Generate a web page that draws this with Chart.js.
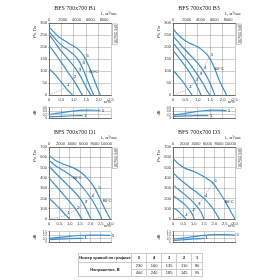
<!DOCTYPE html>
<html>
<head>
<meta charset="utf-8">
<script src="https://cdn.jsdelivr.net/npm/chart.js@4"></script>
<style>
body { margin: 0; width: 280px; height: 280px; background: #fff; position: relative; overflow: hidden; font-family: 'Liberation Sans', sans-serif; }
canvas { position: absolute; }
table { position: absolute; left: 78px; top: 253px; width: 125px; border-collapse: collapse; font-size: 4px; color: #222; }
td { border: 1px solid #ccc; text-align: center; padding: 0; line-height: 1; }
tr.h td { height: 8px; font-weight: bold; }
tr.r td { height: 6px; }
</style>
</head>
<body>
<script>
// curve data, x in m3/s, y in Pa
var b1C1 = [[0,110],[0.2,90],[0.4,65],[0.6,40],[0.8,15],[0.95,0]];
var b1C2 = [[0,207],[0.2,180],[0.4,150],[0.6,120],[0.8,90],[1.0,60],[1.15,35],[1.34,0]];
var b1C3 = [[0,251],[0.2,225],[0.4,195],[0.6,170],[0.8,145],[1.0,120],[1.2,90],[1.35,62],[1.5,32],[1.69,0]];
var b1C4 = [[0,265],[0.2,240],[0.4,217],[0.6,200],[0.8,185],[1.0,168],[1.2,143],[1.35,112],[1.5,75],[1.65,35],[1.8,0]];
var b1C5 = [[0,283],[0.2,262],[0.4,242],[0.6,228],[0.8,215],[1.0,203],[1.2,188],[1.4,163],[1.55,132],[1.7,97],[1.85,55],[2.07,0]];
var b1Sys = [[0,0],[0.67,33],[0.95,67],[1.15,97],[1.3,124],[1.45,155]];
var b1S5 = [[0,0.22],[0.4,0.29],[0.8,0.38],[1.2,0.45],[1.6,0.47],[2.07,0.45]];
var b1S1 = [[0,0.08],[0.5,0.11],[1.0,0.14],[1.36,0.15]];
var b1Notes = [[1.62,97,'60°C']];

var b3C1 = [[0,103],[0.2,80],[0.4,55],[0.6,25],[0.77,0]];
var b3C2 = [[0,186],[0.2,160],[0.4,133],[0.6,105],[0.8,72],[1.0,30],[1.13,0]];
var b3C3 = [[0,217],[0.2,192],[0.4,165],[0.6,140],[0.8,112],[1.0,82],[1.2,50],[1.35,22],[1.49,0]];
var b3C4 = [[0,246],[0.2,222],[0.4,198],[0.6,176],[0.8,155],[1.0,132],[1.2,105],[1.4,70],[1.55,35],[1.69,0]];
var b3C5 = [[0,276],[0.2,252],[0.4,233],[0.6,220],[0.8,210],[1.0,200],[1.2,185],[1.4,165],[1.55,140],[1.7,105],[1.85,65],[2.0,32],[2.16,0]];
var b3Sys = [[0,0],[0.6,26],[0.87,55],[1.03,78],[1.2,105],[1.47,158]];
var b3S5 = [[0,0.18],[0.4,0.25],[0.8,0.35],[1.2,0.43],[1.6,0.47],[2.16,0.44]];
var b3S1 = [[0,0.1],[0.5,0.13],[1.0,0.15],[1.43,0.15]];
var b3Notes = [[1.68,110,'60°C']];

var d1C1 = [[0,200],[0.2,165],[0.4,125],[0.6,85],[0.8,40],[1.0,0]];
var d1C2 = [[0,400],[0.3,330],[0.6,260],[0.9,190],[1.2,120],[1.4,60],[1.59,0]];
var d1C3 = [[0,513],[0.3,450],[0.6,390],[0.9,330],[1.2,270],[1.5,200],[1.7,135],[1.85,75],[2.03,0]];
var d1C4 = [[0,571],[0.3,520],[0.6,482],[0.9,445],[1.2,400],[1.5,340],[1.8,265],[2.1,180],[2.3,110],[2.45,50],[2.56,0]];
var d1C5 = [[0,619],[0.3,572],[0.6,542],[1.0,512],[1.3,485],[1.6,445],[1.9,385],[2.2,305],[2.4,225],[2.6,140],[2.8,60],[2.97,0]];
var d1Sys = [[0,0],[0.82,36],[1.3,89],[1.67,145],[2.0,209],[2.32,280]];
var d1S5 = [[0,0.55],[0.5,0.7],[1.0,0.85],[1.5,0.97],[2.0,1.02],[2.5,1.02],[2.97,0.98]];
var d1S1 = [[0,0.35],[0.5,0.45],[1.0,0.52],[1.64,0.55]];
var d1Notes = [[1.15,395,'60°C'],[2.6,180,'80°C']];

var d3C1 = [[0,110],[0.2,85],[0.4,48],[0.63,0]];
var d3C2 = [[0,227],[0.2,200],[0.4,170],[0.6,135],[0.8,90],[0.95,40],[1.03,0]];
var d3C3 = [[0,330],[0.3,282],[0.6,232],[0.9,178],[1.1,135],[1.3,85],[1.4,48],[1.5,0]];
var d3C4 = [[0,450],[0.3,392],[0.6,342],[0.9,295],[1.2,250],[1.5,200],[1.8,135],[2.0,80],[2.24,0]];
var d3C5 = [[0,589],[0.3,530],[0.6,492],[1.0,462],[1.4,422],[1.7,385],[1.93,350],[2.2,275],[2.4,212],[2.6,145],[2.8,70],[3.0,0]];
var d3Sys = [[0,0],[0.52,25],[0.87,71],[1.15,123],[1.47,204],[1.93,350]];
var d3S5 = [[0,0.45],[0.5,0.6],[1.0,0.8],[1.5,0.98],[2.0,1.08],[2.5,1.1],[3.0,1.02]];
var d3S1 = [[0,0.25],[0.5,0.35],[1.0,0.48],[1.5,0.55]];
var d3Notes = [[2.5,170,'80°C']];

// top axis ticks, m3/h
var flowTicksB = [0, 2000, 4000, 6000, 8000];
var flowTicksD = [0, 2000, 4000, 6000, 8000, 10000];

// table
var curveNums = ['5', '4', '3', '2', '1'];
var volts1 = ['230', '160', '135', '110', '80'];
var volts2 = ['400', '240', '185', '145', '95'];

var blue = '#3b8ed0';
var gridCol = 'rgba(0,0,0,0.28)';
var tickFont = { family: 'Liberation Sans', size: 4 };

function fmt(v) {
    return v === 0 ? '0' : v.toFixed(1).replace('.', ',');
}

function pts(arr) {
    return arr.map(function (p) { return { x: p[0], y: p[1] }; });
}

function endTag(arr, t) {
    return arr.map(function (p, i) { return i === arr.length - 1 ? t : ''; });
}

// draws small number tags at points and notes like 60°C
var tagPlugin = {
    id: 'tags',
    afterDatasetsDraw: function (chart, args, opts) {
        var ctx = chart.ctx;
        ctx.save();
        ctx.font = '4px "Liberation Sans"';
        ctx.fillStyle = '#222';
        ctx.textBaseline = 'middle';
        chart.data.datasets.forEach(function (ds, i) {
            if (!ds.tags) return;
            var meta = chart.getDatasetMeta(i);
            ds.tags.forEach(function (t, j) {
                if (!t) return;
                var p = meta.data[j];
                ctx.fillText(t, p.x + 1.5, p.y - (ds.tagUp ? 2 : 0));
            });
        });
        (opts.notes || []).forEach(function (n) {
            ctx.fillText(n[2], chart.scales.x.getPixelForValue(n[0]), chart.scales.y.getPixelForValue(n[1]));
        });
        ctx.restore();
    }
};

// plain canvas text (titles, axis names)
function textPlugin(items) {
    return {
        id: 'texts',
        afterDraw: function (chart) {
            var ctx = chart.ctx;
            items.forEach(function (it) {
                ctx.save();
                ctx.font = it.font || '4px "Liberation Sans"';
                ctx.fillStyle = it.color || '#333';
                ctx.textAlign = it.align || 'left';
                ctx.textBaseline = 'middle';
                ctx.translate(it.x, it.y);
                if (it.rot) ctx.rotate(it.rot);
                ctx.fillText(it.text, 0, 0);
                if (it.box) {
                    var w = ctx.measureText(it.text).width;
                    ctx.strokeStyle = '#888';
                    ctx.lineWidth = 0.5;
                    ctx.strokeRect(-1, -2.5, w + 2, 5);
                }
                ctx.restore();
            });
        }
    };
}

function addCanvas(x, y, w, h) {
    var c = document.createElement('canvas');
    c.width = w; c.height = h;
    c.style.left = x + 'px'; c.style.top = y + 'px';
    c.style.width = w + 'px'; c.style.height = h + 'px';
    document.body.appendChild(c);
    return c.getContext('2d');
}

function curveSet(data) {
    return { data: pts(data), borderColor: blue, borderWidth: 1.2, tension: 0.3, pointRadius: 0, fill: false };
}

function makePanel(ox, oy, title, xMax, yMax, yStep, flowTicks, subMax, subStep, curves, sys, s5, s1, notes) {
    var sets = curves.map(curveSet);
    sets.push({ data: pts(sys), borderColor: '#aaa', borderWidth: 0.8, borderDash: [1.5, 1], tension: 0.4, pointRadius: 0, fill: false, tags: ['', '1', '2', '3', '4', '5'], tagUp: true });

    var texts = [
        { text: title, x: 45, y: 8, align: 'center', font: '6px "Liberation Serif"', color: '#222' },
        { text: 'L, м³/час', x: 71, y: 14 },
        { text: 'Pv, Па', x: 5, y: 32, rot: -Math.PI / 2, align: 'center' },
        { text: 'м³/с', x: 74, y: 102 },
        { text: 'BFS 700x700', x: 85, y: 25, rot: Math.PI / 2, font: '3px "Liberation Sans"', box: true }
    ];

    new Chart(addCanvas(ox + 30, oy, 92, 106), {
        type: 'line',
        data: { datasets: sets },
        plugins: [tagPlugin, textPlugin(texts)],
        options: {
            animation: false,
            responsive: false,
            layout: { padding: { right: 11, left: 0, top: 0, bottom: 0 } },
            plugins: { legend: { display: false }, tooltip: { enabled: false }, tags: { notes: notes } },
            scales: {
                x: {
                    type: 'linear', position: 'bottom', min: 0, max: xMax,
                    ticks: { stepSize: 0.5, autoSkip: false, font: tickFont, color: '#333', padding: 1, maxRotation: 0, callback: fmt },
                    grid: { color: gridCol, lineWidth: 0.7, tickLength: 1 },
                    border: { color: '#555', width: 0.8 },
                    afterFit: function (s) { s.height = 11; }
                },
                xTop: {
                    type: 'linear', position: 'top', min: 0, max: xMax * 3600,
                    ticks: { autoSkip: false, font: tickFont, color: '#333', padding: 1, maxRotation: 0,
                        callback: function (v) { return String(v); } },
                    grid: { display: false, drawTicks: false, tickLength: 0 },
                    border: { color: '#555', width: 0.8 },
                    afterBuildTicks: function (s) { s.ticks = flowTicks.map(function (v) { return { value: v }; }); },
                    afterFit: function (s) { s.height = 23; }
                },
                y: {
                    type: 'linear', min: 0, max: yMax,
                    ticks: { stepSize: yStep, autoSkip: false, font: tickFont, color: '#333', padding: 1 },
                    grid: { color: gridCol, lineWidth: 0.7, tickLength: 1 },
                    border: { color: '#555', width: 0.8 },
                    afterFit: function (s) { s.width = 19; }
                }
            }
        }
    });

    var subSets = [s5, s1].map(curveSet);
    subSets[0].tags = endTag(s5, '5');
    subSets[1].tags = endTag(s1, '1');

    new Chart(addCanvas(ox + 30, oy + 105, 92, 16), {
        type: 'line',
        data: { datasets: subSets },
        plugins: [tagPlugin, textPlugin([{ text: 'dB', x: 5, y: 8, rot: -Math.PI / 2, align: 'center' }])],
        options: {
            animation: false,
            responsive: false,
            layout: { padding: { right: 11, left: 0, top: 2, bottom: 0 } },
            plugins: { legend: { display: false }, tooltip: { enabled: false } },
            scales: {
                x: {
                    type: 'linear', min: 0, max: xMax,
                    ticks: { stepSize: 0.5, display: false },
                    grid: { color: gridCol, lineWidth: 0.7, drawTicks: false },
                    border: { color: '#555', width: 0.8 },
                    afterFit: function (s) { s.height = 2; }
                },
                y: {
                    type: 'linear', min: 0, max: subMax,
                    ticks: { stepSize: subStep, autoSkip: false, font: { family: 'Liberation Sans', size: 3 }, color: '#333', padding: 1, callback: fmt },
                    grid: { color: gridCol, lineWidth: 0.7, tickLength: 1 },
                    border: { color: '#555', width: 0.8 },
                    afterFit: function (s) { s.width = 19; }
                }
            }
        }
    });
}

makePanel(0, 0, 'BFS 700x700 B1', 2.5, 300, 50, flowTicksB, 0.6, 0.2, [b1C1, b1C2, b1C3, b1C4, b1C5], b1Sys, b1S5, b1S1, b1Notes);
makePanel(124, 0, 'BFS 700x700 B3', 2.5, 300, 50, flowTicksB, 0.6, 0.2, [b3C1, b3C2, b3C3, b3C4, b3C5], b3Sys, b3S5, b3S1, b3Notes);
makePanel(0, 124, 'BFS 700x700 D1', 3.0, 700, 100, flowTicksD, 1.5, 0.5, [d1C1, d1C2, d1C3, d1C4, d1C5], d1Sys, d1S5, d1S1, d1Notes);
makePanel(124, 124, 'BFS 700x700 D3', 3.0, 700, 100, flowTicksD, 1.5, 0.5, [d3C1, d3C2, d3C3, d3C4, d3C5], d3Sys, d3S5, d3S1, d3Notes);

// voltage table
var html = '<tr class="h"><td style="width:52px">Номер кривой на графике</td>' + curveNums.map(function (n) { return '<td>' + n + '</td>'; }).join('') + '</tr>';
html += '<tr class="r"><td rowspan="2" style="font-weight:bold">Напряжение, В</td>' + volts1.map(function (n) { return '<td>' + n + '</td>'; }).join('') + '</tr>';
html += '<tr class="r">' + volts2.map(function (n) { return '<td>' + n + '</td>'; }).join('') + '</tr>';
var tbl = document.createElement('table');
tbl.innerHTML = html;
document.body.appendChild(tbl);
</script>
</body>
</html>
